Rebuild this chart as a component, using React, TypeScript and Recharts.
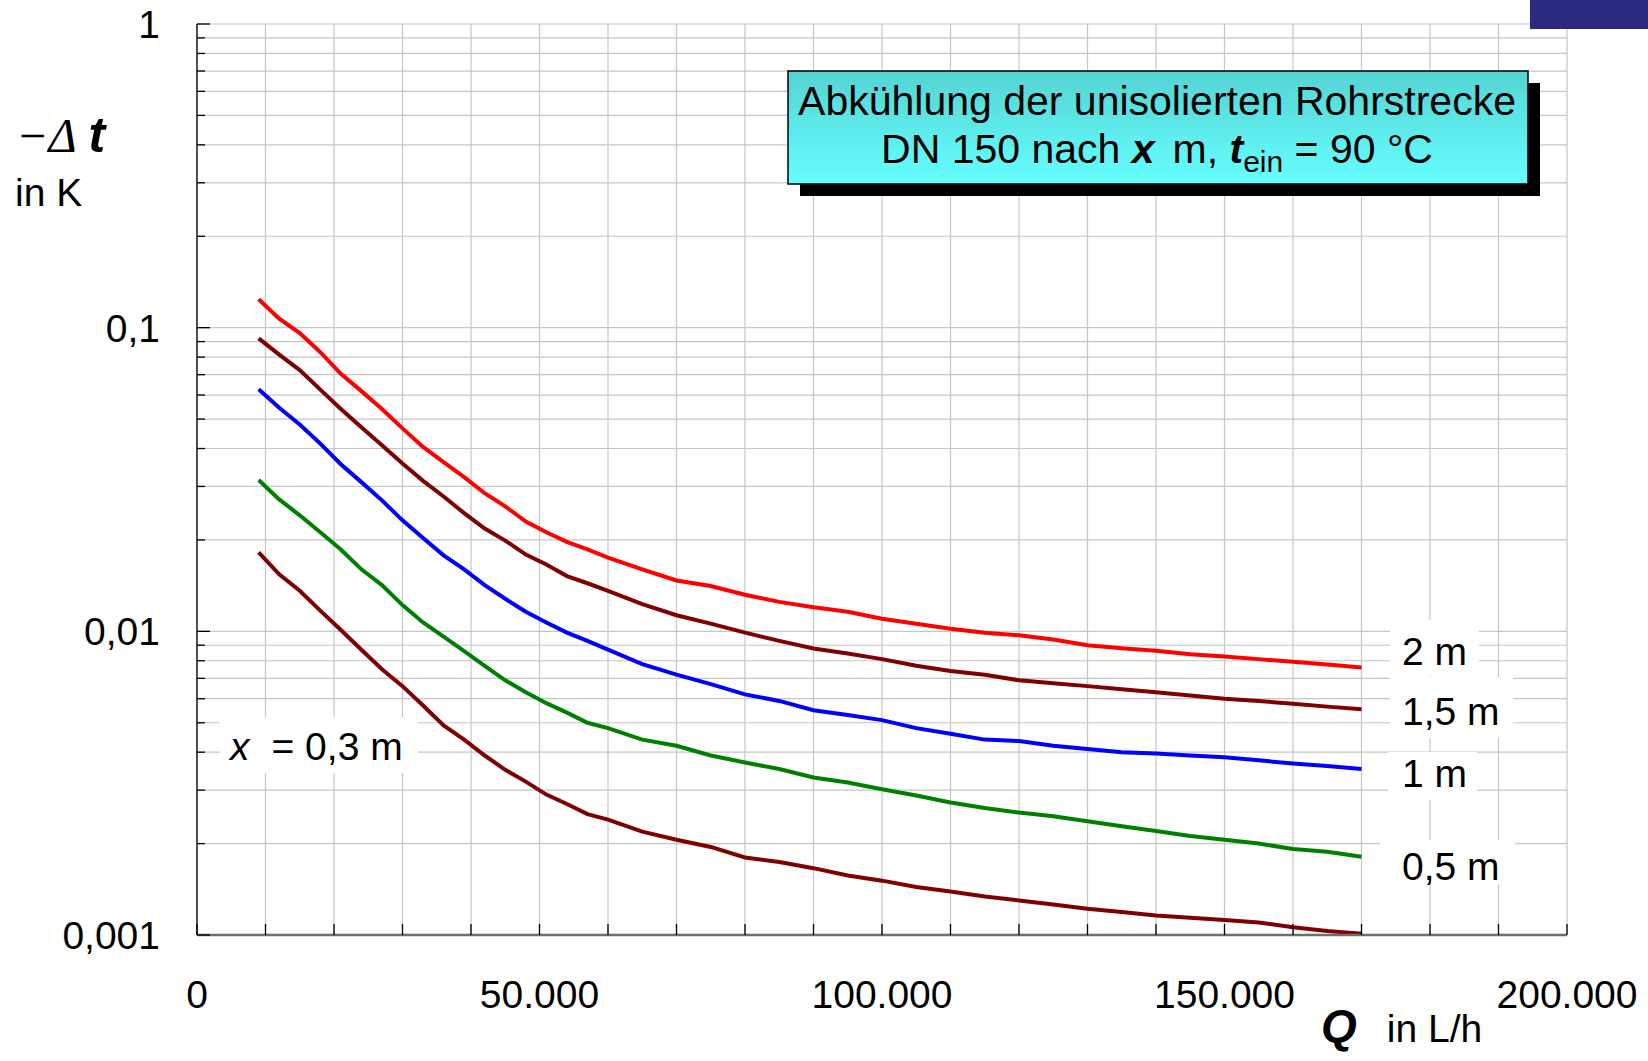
import { CartesianGrid, Line, LineChart, XAxis, YAxis } from 'recharts';

// Durchfluss Q in L/h
const flow = [
  9000, 12000, 15000, 18000, 21000, 24000, 27000, 30000, 33000, 36000, 39000, 42000, 45000, 48000,
  51000, 54000, 57000, 60000, 65000, 70000, 75000, 80000, 85000, 90000, 95000, 100000, 105000,
  110000, 115000, 120000, 125000, 130000, 135000, 140000, 145000, 150000, 155000, 160000, 165000,
  170000,
];

// -Δt in K nach x m
const dt2m = [
  0.124, 0.107, 0.096, 0.083, 0.0705, 0.0618, 0.054, 0.0466, 0.0405, 0.0361, 0.0322, 0.0285, 0.0258,
  0.023, 0.0212, 0.0197, 0.0186, 0.0175, 0.016, 0.0147, 0.0141, 0.0132, 0.0125, 0.012, 0.0116, 0.011,
  0.0106, 0.0102, 0.0099, 0.0097, 0.0094, 0.009, 0.0088, 0.00863, 0.0084, 0.00826, 0.0081, 0.00794,
  0.00777, 0.0076,
];
const dt15m = [
  0.0922, 0.0815, 0.0725, 0.0625, 0.054, 0.047, 0.041, 0.0357, 0.0313, 0.0278, 0.0245, 0.0218, 0.0199,
  0.0179, 0.0166, 0.0152, 0.0144, 0.0136, 0.0123, 0.0113, 0.0106, 0.0099, 0.0093, 0.00878, 0.00845,
  0.0081, 0.0077, 0.0074, 0.0072, 0.0069, 0.00675, 0.0066, 0.00645, 0.0063, 0.00615, 0.006, 0.0059,
  0.00577, 0.00565, 0.00554,
];
const dt1m = [
  0.0627, 0.0545, 0.048, 0.0415, 0.0355, 0.031, 0.027, 0.0232, 0.0203, 0.0178, 0.016, 0.0142, 0.0128,
  0.0116, 0.0107, 0.0099, 0.0093, 0.0087, 0.0078, 0.0072, 0.0067, 0.0062, 0.0059, 0.0055, 0.0053,
  0.0051, 0.0048, 0.0046, 0.0044, 0.00435, 0.0042, 0.0041, 0.004, 0.00396, 0.0039, 0.00385, 0.00376,
  0.00367, 0.0036, 0.00352,
];
const dt05m = [
  0.0315, 0.0272, 0.0241, 0.0212, 0.0186, 0.016, 0.0142, 0.0122, 0.0107, 0.0096, 0.0086, 0.0077,
  0.0069, 0.0063, 0.0058, 0.0054, 0.005, 0.0048, 0.0044, 0.0042, 0.0039, 0.0037, 0.00352, 0.0033,
  0.00318, 0.00302, 0.00288, 0.00273, 0.00262, 0.00253, 0.00246, 0.00237, 0.00228, 0.0022, 0.00212,
  0.00206, 0.002, 0.00192, 0.00188, 0.00181,
];
const dt03m = [
  0.0182, 0.0154, 0.0136, 0.0117, 0.0101, 0.0087, 0.0075, 0.0066, 0.0057, 0.0049, 0.0044, 0.0039,
  0.0035, 0.0032, 0.0029, 0.0027, 0.0025, 0.0024, 0.00219, 0.00206, 0.00195, 0.0018, 0.00174, 0.00166,
  0.00157, 0.00151, 0.00144, 0.00139, 0.00134, 0.0013, 0.00126, 0.00122, 0.00119, 0.00116, 0.00114,
  0.00112, 0.0011, 0.00106, 0.00103, 0.00101,
];

const xTicks = [
  0, 10000, 20000, 30000, 40000, 50000, 60000, 70000, 80000, 90000, 100000, 110000, 120000, 130000,
  140000, 150000, 160000, 170000, 180000, 190000, 200000,
];
const yTicks = [
  0.001, 0.002, 0.003, 0.004, 0.005, 0.006, 0.007, 0.008, 0.009,
  0.01, 0.02, 0.03, 0.04, 0.05, 0.06, 0.07, 0.08, 0.09,
  0.1, 0.2, 0.3, 0.4, 0.5, 0.6, 0.7, 0.8, 0.9, 1,
];

const rows = flow.map((q, i) => ({
  q,
  m2: dt2m[i],
  m15: dt15m[i],
  m1: dt1m[i],
  m05: dt05m[i],
  m03: dt03m[i],
}));

const FONT = '"Liberation Sans", Arial, sans-serif';
const Y_GAP = 37;
const X_GAP = 73;

const isDecade = (v: number) => Math.abs(Math.log10(v) - Math.round(Math.log10(v))) < 1e-6;
const fmtY = (v: number) => String(v).replace('.', ',');
const fmtX = (v: number) => String(v).replace(/\B(?=(\d{3})+(?!\d))/g, '.');

function YTick(props: any) {
  const { x, y, payload } = props;
  const major = isDecade(payload.value);
  const ax = x + Y_GAP;
  return (
    <g>
      <line x1={ax} x2={ax + (major ? 13 : 8)} y1={y} y2={y} stroke="#000" strokeWidth={1.3} />
      {major && (
        <text x={x} y={y} dy="0.36em" textAnchor="end" fontFamily={FONT} fontSize={39} fill="#000">
          {fmtY(payload.value)}
        </text>
      )}
    </g>
  );
}

function XTick(props: any) {
  const { x, y, payload } = props;
  const ay = y - X_GAP;
  return (
    <g>
      <line x1={x} x2={x} y1={ay} y2={ay - 11} stroke="#000" strokeWidth={1.3} />
      {payload.value % 50000 === 0 && (
        <text x={x} y={y} textAnchor="middle" fontFamily={FONT} fontSize={39} fill="#000">
          {fmtX(payload.value)}
        </text>
      )}
    </g>
  );
}

function Label({ x, y, w, h, tx, ty, children }: any) {
  return (
    <g>
      <rect x={x} y={y} width={w} height={h} fill="#fff" />
      <text x={tx} y={ty} fontFamily={FONT} fontSize={39} fill="#000">
        {children}
      </text>
    </g>
  );
}

export default function App() {
  return (
    <div style={{ position: 'absolute', left: 0, top: 0, width: 1648, height: 1061, background: '#fff' }}>
      <LineChart
        width={1648}
        height={1061}
        data={rows}
        margin={{ top: 24, right: 81, bottom: 0, left: 0 }}
      >
        <CartesianGrid stroke="#c6c6c6" strokeWidth={1.2} />
        <XAxis
          dataKey="q"
          type="number"
          domain={[0, 200000]}
          ticks={xTicks}
          interval={0}
          height={126}
          tickSize={0}
          tickMargin={X_GAP}
          tickLine={false}
          tick={<XTick />}
          axisLine={{ stroke: '#6e6e6e', strokeWidth: 2.5 }}
        />
        <YAxis
          type="number"
          scale="log"
          domain={[0.001, 1]}
          allowDataOverflow
          ticks={yTicks}
          interval={0}
          width={197}
          tickSize={0}
          tickMargin={Y_GAP}
          tickLine={false}
          tick={<YTick />}
          axisLine={{ stroke: '#000', strokeWidth: 1.3 }}
        />
        <Line dataKey="m2" stroke="#ff0000" strokeWidth={4} dot={false} isAnimationActive={false} />
        <Line dataKey="m15" stroke="#800000" strokeWidth={4} dot={false} isAnimationActive={false} />
        <Line dataKey="m1" stroke="#0000ff" strokeWidth={4} dot={false} isAnimationActive={false} />
        <Line dataKey="m05" stroke="#008000" strokeWidth={4} dot={false} isAnimationActive={false} />
        <Line dataKey="m03" stroke="#800000" strokeWidth={4} dot={false} isAnimationActive={false} />
      </LineChart>

      <svg
        width={1648}
        height={1061}
        style={{ position: 'absolute', left: 0, top: 0, pointerEvents: 'none' }}
      >
        <defs>
          <linearGradient id="boxFill" x1="0" y1="0" x2="0" y2="1">
            <stop offset="0" stopColor="#55d3d3" />
            <stop offset="1" stopColor="#66ffff" />
          </linearGradient>
        </defs>

        <rect x={1530} y={0} width={118} height={29} fill="#2b2a7e" />

        {/* Titelbox */}
        <rect x={800} y={83} width={740} height={113} fill="#000" />
        <rect x={788} y={71} width={740} height={113} fill="url(#boxFill)" stroke="#000" strokeWidth={1.5} />
        <text x={1157} y={115} textAnchor="middle" fontFamily={FONT} fontSize={41} fill="#000">
          Abkühlung der unisolierten Rohrstrecke
        </text>
        <text x={1157} y={163} textAnchor="middle" fontFamily={FONT} fontSize={41} fill="#000">
          <tspan>DN 150 nach </tspan>
          <tspan fontWeight="bold" fontStyle="italic">x</tspan>
          <tspan dx={18}>m, </tspan>
          <tspan fontWeight="bold" fontStyle="italic">t</tspan>
          <tspan fontSize={30} dy={9}>ein</tspan>
          <tspan dy={-9}> = 90 °C</tspan>
        </text>

        {/* Achsentitel */}
        <text x={16} y={152} fill="#000">
          <tspan fontFamily='"Liberation Serif", serif' fontStyle="italic" fontSize={48}>−Δ</tspan>
          <tspan dx={12} fontFamily={FONT} fontWeight="bold" fontStyle="italic" fontSize={50}>t</tspan>
        </text>
        <text x={15} y={206} fontFamily={FONT} fontSize={39} fill="#000">in K</text>
        <text x={1321} y={1042} fill="#000">
          <tspan fontFamily={FONT} fontWeight="bold" fontStyle="italic" fontSize={46}>Q</tspan>
          <tspan dx={30} fontFamily={FONT} fontSize={39}>in L/h</tspan>
        </text>

        {/* Kurvenbeschriftungen */}
        <Label x={1390} y={620} w={89} h={56} tx={1402} ty={665}>2 m</Label>
        <Label x={1390} y={677} w={123} h={61} tx={1402} ty={725}>1,5 m</Label>
        <Label x={1388} y={752} w={89} h={48} tx={1402} ty={787}>1 m</Label>
        <Label x={1380} y={840} w={135} h={44} tx={1402} ty={880}>0,5 m</Label>
        <Label x={220} y={717} w={198} h={56} tx={230} ty={760}>
          <tspan fontStyle="italic">x</tspan>
          <tspan dx={22}>= 0,3 m</tspan>
        </Label>
      </svg>
    </div>
  );
}
